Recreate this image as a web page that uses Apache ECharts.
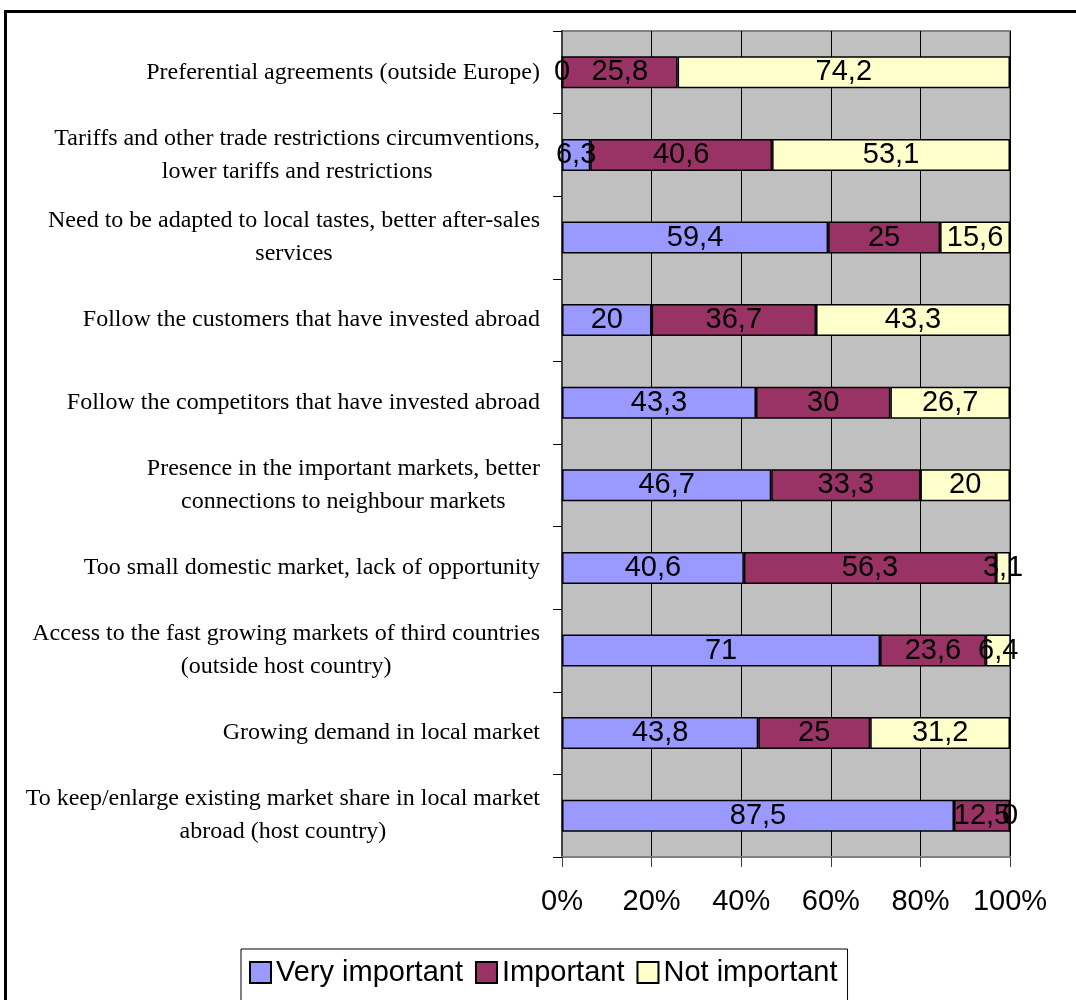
<!DOCTYPE html>
<html>
<head>
<meta charset="utf-8">
<title>Motives</title>
<script src="https://cdn.jsdelivr.net/npm/echarts@6/dist/echarts.min.js"></script>
<style>
  html, body { margin: 0; padding: 0; background: #fff; }
  #chart { width: 1076px; height: 1000px; }
</style>
</head>
<body>
<div id="chart"></div>
<script>
// Motives listed top to bottom
const categories = [
  'Preferential agreements (outside Europe)',
  'Tariffs and other trade restrictions circumventions,\nlower tariffs and restrictions',
  'Need to be adapted to local tastes, better after-sales\nservices',
  'Follow the customers that have invested abroad',
  'Follow the competitors that have invested abroad',
  'Presence in the important markets, better\nconnections to neighbour markets',
  'Too small domestic market, lack of opportunity',
  'Access to the fast growing markets of third countries\n(outside host country)',
  'Growing demand in local market',
  'To keep/enlarge existing market share in local market\nabroad (host country)'
];
const veryImportant = [0, 6.3, 59.4, 20, 43.3, 46.7, 40.6, 71, 43.8, 87.5];
const important     = [25.8, 40.6, 25, 36.7, 30, 33.3, 56.3, 23.6, 25, 12.5];
const notImportant  = [74.2, 53.1, 15.6, 43.3, 26.7, 20, 3.1, 6.4, 31.2, 0];
const xTicks = [0, 20, 40, 60, 80, 100];

const sans = 'Liberation Sans, Arial, sans-serif';
const serif = 'Liberation Serif, Times New Roman, serif';

const decimalComma = v => String(v).replace('.', ',');

function barSeries(name, data, color) {
  return {
    name: name,
    type: 'bar',
    stack: 'total',
    data: data,
    barWidth: 32,
    itemStyle: { color: color, borderColor: '#000', borderWidth: 1.5 },
    label: {
      show: true,
      position: 'inside',
      color: '#000',
      fontFamily: sans,
      fontSize: 29,
      formatter: p => decimalComma(p.value)
    },
    emphasis: { disabled: true }
  };
}

const chart = echarts.init(document.getElementById('chart'), null, { renderer: 'canvas' });
chart.setOption({
  animation: false,
  backgroundColor: '#fff',
  graphic: [{
    type: 'rect',
    silent: true,
    shape: { x: 5.5, y: 11.5, width: 1200, height: 1200 },
    style: { fill: 'none', stroke: '#000', lineWidth: 3 }
  }],
  grid: {
    left: 562, right: 66, top: 31, bottom: 143,
    show: true,
    backgroundColor: '#C0C0C0',
    borderColor: '#808080',
    borderWidth: 2
  },
  legend: {
    left: 241,
    top: 949,
    orient: 'horizontal',
    padding: [9, 10, 40, 8],
    borderColor: '#000',
    borderWidth: 1,
    itemWidth: 21,
    itemHeight: 21,
    itemGap: 12,
    icon: 'rect',
    textStyle: { fontFamily: sans, fontSize: 29, color: '#000' },
    selectedMode: false
  },
  xAxis: {
    type: 'value',
    min: 0,
    max: 100,
    interval: 20,
    axisLine: { show: true, lineStyle: { color: '#808080', width: 2 } },
    axisTick: { show: true, length: 10, lineStyle: { color: '#404040', width: 1 } },
    splitLine: { show: true, lineStyle: { color: '#000', width: 1 } },
    axisLabel: {
      margin: 30,
      fontFamily: sans,
      fontSize: 29,
      color: '#000',
      formatter: v => xTicks.indexOf(v) >= 0 ? v + '%' : ''
    }
  },
  yAxis: {
    type: 'category',
    inverse: true,
    data: categories,
    axisLine: { show: true, lineStyle: { color: '#404040', width: 2 } },
    axisTick: { show: true, length: 9, lineStyle: { color: '#000', width: 1 } },
    splitLine: { show: false },
    axisLabel: {
      margin: 22,
      color: '#000',
      fontFamily: serif,
      fontSize: 24,
      lineHeight: 33,
      formatter: v => v.split('\n').map(line => '{c|' + line + '}').join('\n'),
      rich: {
        c: { align: 'center', fontFamily: serif, fontSize: 24, lineHeight: 33, color: '#000' }
      }
    }
  },
  series: [
    barSeries('Very important', veryImportant, '#9999FF'),
    barSeries('Important', important, '#993366'),
    barSeries('Not important', notImportant, '#FFFFCC')
  ]
});
</script>
</body>
</html>
